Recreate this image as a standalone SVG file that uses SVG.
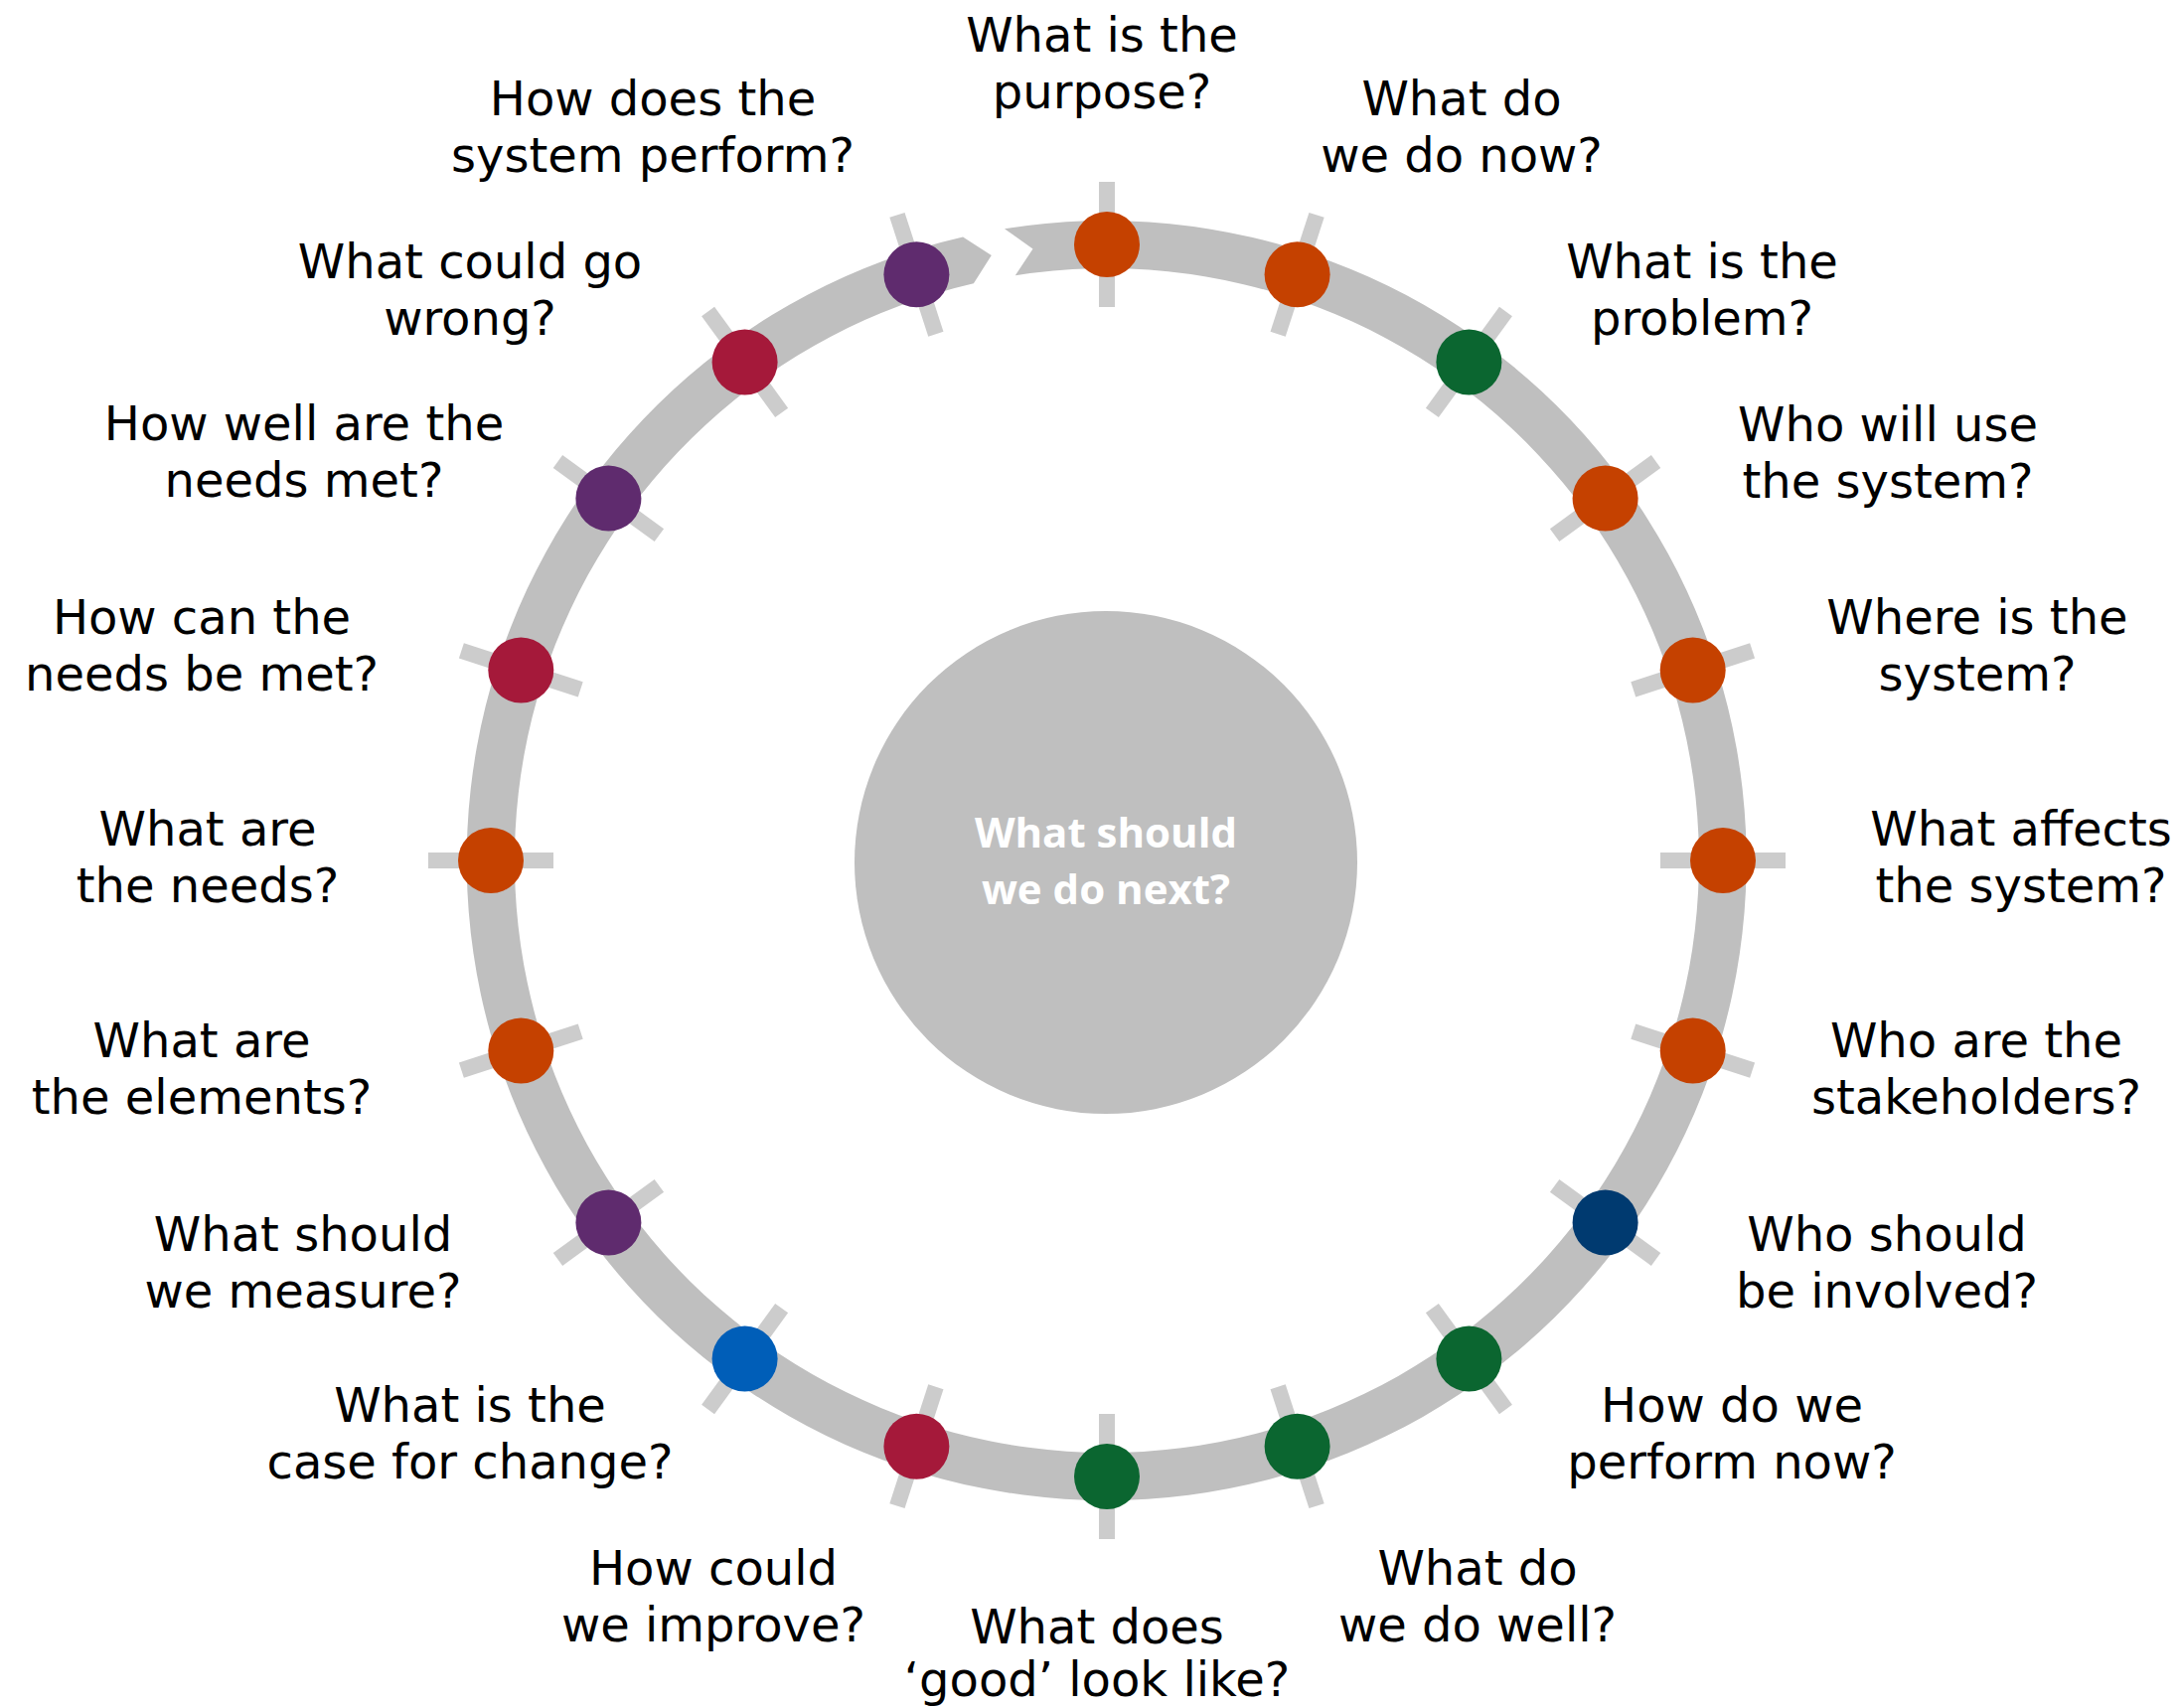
<svg xmlns="http://www.w3.org/2000/svg" width="2195" height="1719" viewBox="0 0 2195 1719">
<style>
.tick{stroke:#cccccc;stroke-width:16;stroke-linecap:butt;fill:none}
.lbl{font-family:"DejaVu Sans","Verdana","Liberation Sans",sans-serif;font-size:48px;fill:#000000;text-anchor:middle}
.ctr{font-family:"Open Sans","Liberation Sans",sans-serif;font-weight:bold;font-size:42px;fill:#ffffff;text-anchor:middle}
.or{fill:#c54100}
.gr{fill:#0b6630}
.pu{fill:#5f2b6e}
.cr{fill:#a5193a}
.nv{fill:#003a70}
.bl{fill:#005eb8}
.ring{fill:#bfbfbf}
</style>
<rect width="2195" height="1719" fill="#ffffff"/>
<g id="centre">
<circle cx="1113" cy="868" r="253" fill="#bfbfbf"/>
<text class="ctr" x="1113" y="853">What should</text>
<text class="ctr" x="1113" y="910">we do next?</text>
</g>
<g id="connectors">
<path class="ring" d="M 1011.0 230.3 A 644 644 0 1 1 969.1 238.5 L 997.8 257.0 L 979.9 285.3 A 596 596 0 1 0 1021.8 277.2 L 1039.5 250.5 Z"/>
</g>
<g id="n01"><line class="tick" x1="0" y1="-63" x2="0" y2="63" transform="translate(1114,246) rotate(0)"/><circle class="or" cx="1114" cy="246" r="33"/>
<text class="lbl" x="1109" y="52">What is the</text><text class="lbl" x="1109" y="109">purpose?</text></g>
<g id="n02"><line class="tick" x1="0" y1="-63" x2="0" y2="63" transform="translate(1305.6,276.3) rotate(18)"/><circle class="or" cx="1305.6" cy="276.3" r="33"/>
<text class="lbl" x="1471" y="116">What do</text><text class="lbl" x="1471" y="173">we do now?</text></g>
<g id="n03"><line class="tick" x1="0" y1="-63" x2="0" y2="63" transform="translate(1478.4,364.4) rotate(36)"/><circle class="gr" cx="1478.4" cy="364.4" r="33"/>
<text class="lbl" x="1713" y="280">What is the</text><text class="lbl" x="1713" y="337">problem?</text></g>
<g id="n04"><line class="tick" x1="0" y1="-63" x2="0" y2="63" transform="translate(1615.6,501.6) rotate(54)"/><circle class="or" cx="1615.6" cy="501.6" r="33"/>
<text class="lbl" x="1900" y="444">Who will use</text><text class="lbl" x="1900" y="501">the system?</text></g>
<g id="n05"><line class="tick" x1="0" y1="-63" x2="0" y2="63" transform="translate(1703.7,674.4) rotate(72)"/><circle class="or" cx="1703.7" cy="674.4" r="33"/>
<text class="lbl" x="1990" y="638">Where is the</text><text class="lbl" x="1990" y="695">system?</text></g>
<g id="n06"><line class="tick" x1="0" y1="-63" x2="0" y2="63" transform="translate(1734,866) rotate(90)"/><circle class="or" cx="1734" cy="866" r="33"/>
<text class="lbl" x="2034" y="851">What affects</text><text class="lbl" x="2034" y="908">the system?</text></g>
<g id="n07"><line class="tick" x1="0" y1="-63" x2="0" y2="63" transform="translate(1703.7,1057.6) rotate(108)"/><circle class="or" cx="1703.7" cy="1057.6" r="33"/>
<text class="lbl" x="1989" y="1064">Who are the</text><text class="lbl" x="1989" y="1121">stakeholders?</text></g>
<g id="n08"><line class="tick" x1="0" y1="-63" x2="0" y2="63" transform="translate(1615.6,1230.4) rotate(126)"/><circle class="nv" cx="1615.6" cy="1230.4" r="33"/>
<text class="lbl" x="1899" y="1259">Who should</text><text class="lbl" x="1899" y="1316">be involved?</text></g>
<g id="n09"><line class="tick" x1="0" y1="-63" x2="0" y2="63" transform="translate(1478.4,1367.6) rotate(144)"/><circle class="gr" cx="1478.4" cy="1367.6" r="33"/>
<text class="lbl" x="1743" y="1431">How do we</text><text class="lbl" x="1743" y="1488">perform now?</text></g>
<g id="n10"><line class="tick" x1="0" y1="-63" x2="0" y2="63" transform="translate(1305.6,1455.7) rotate(162)"/><circle class="gr" cx="1305.6" cy="1455.7" r="33"/>
<text class="lbl" x="1487" y="1595">What do</text><text class="lbl" x="1487" y="1652">we do well?</text></g>
<g id="n11"><line class="tick" x1="0" y1="-63" x2="0" y2="63" transform="translate(1114,1486) rotate(180)"/><circle class="gr" cx="1114" cy="1486" r="33"/>
<text class="lbl" x="1104" y="1654">What does</text><text class="lbl" x="1104" y="1707">&#8216;good&#8217; look like?</text></g>
<g id="n12"><line class="tick" x1="0" y1="-63" x2="0" y2="63" transform="translate(922.4,1455.7) rotate(198)"/><circle class="cr" cx="922.4" cy="1455.7" r="33"/>
<text class="lbl" x="718" y="1595">How could</text><text class="lbl" x="718" y="1652">we improve?</text></g>
<g id="n13"><line class="tick" x1="0" y1="-63" x2="0" y2="63" transform="translate(749.6,1367.6) rotate(216)"/><circle class="bl" cx="749.6" cy="1367.6" r="33"/>
<text class="lbl" x="473" y="1431">What is the</text><text class="lbl" x="473" y="1488">case for change?</text></g>
<g id="n14"><line class="tick" x1="0" y1="-63" x2="0" y2="63" transform="translate(612.4,1230.4) rotate(234)"/><circle class="pu" cx="612.4" cy="1230.4" r="33"/>
<text class="lbl" x="305" y="1259">What should</text><text class="lbl" x="305" y="1316">we measure?</text></g>
<g id="n15"><line class="tick" x1="0" y1="-63" x2="0" y2="63" transform="translate(524.3,1057.6) rotate(252)"/><circle class="or" cx="524.3" cy="1057.6" r="33"/>
<text class="lbl" x="203" y="1064">What are</text><text class="lbl" x="203" y="1121">the elements?</text></g>
<g id="n16"><line class="tick" x1="0" y1="-63" x2="0" y2="63" transform="translate(494,866) rotate(270)"/><circle class="or" cx="494" cy="866" r="33"/>
<text class="lbl" x="209" y="851">What are</text><text class="lbl" x="209" y="908">the needs?</text></g>
<g id="n17"><line class="tick" x1="0" y1="-63" x2="0" y2="63" transform="translate(524.3,674.4) rotate(288)"/><circle class="cr" cx="524.3" cy="674.4" r="33"/>
<text class="lbl" x="203" y="638">How can the</text><text class="lbl" x="203" y="695">needs be met?</text></g>
<g id="n18"><line class="tick" x1="0" y1="-63" x2="0" y2="63" transform="translate(612.4,501.6) rotate(306)"/><circle class="pu" cx="612.4" cy="501.6" r="33"/>
<text class="lbl" x="306" y="443">How well are the</text><text class="lbl" x="306" y="500">needs met?</text></g>
<g id="n19"><line class="tick" x1="0" y1="-63" x2="0" y2="63" transform="translate(749.6,364.4) rotate(324)"/><circle class="cr" cx="749.6" cy="364.4" r="33"/>
<text class="lbl" x="473" y="280">What could go</text><text class="lbl" x="473" y="337">wrong?</text></g>
<g id="n20"><line class="tick" x1="0" y1="-63" x2="0" y2="63" transform="translate(922.4,276.3) rotate(342)"/><circle class="pu" cx="922.4" cy="276.3" r="33"/>
<text class="lbl" x="657" y="116">How does the</text><text class="lbl" x="657" y="173">system perform?</text></g>
</svg>
